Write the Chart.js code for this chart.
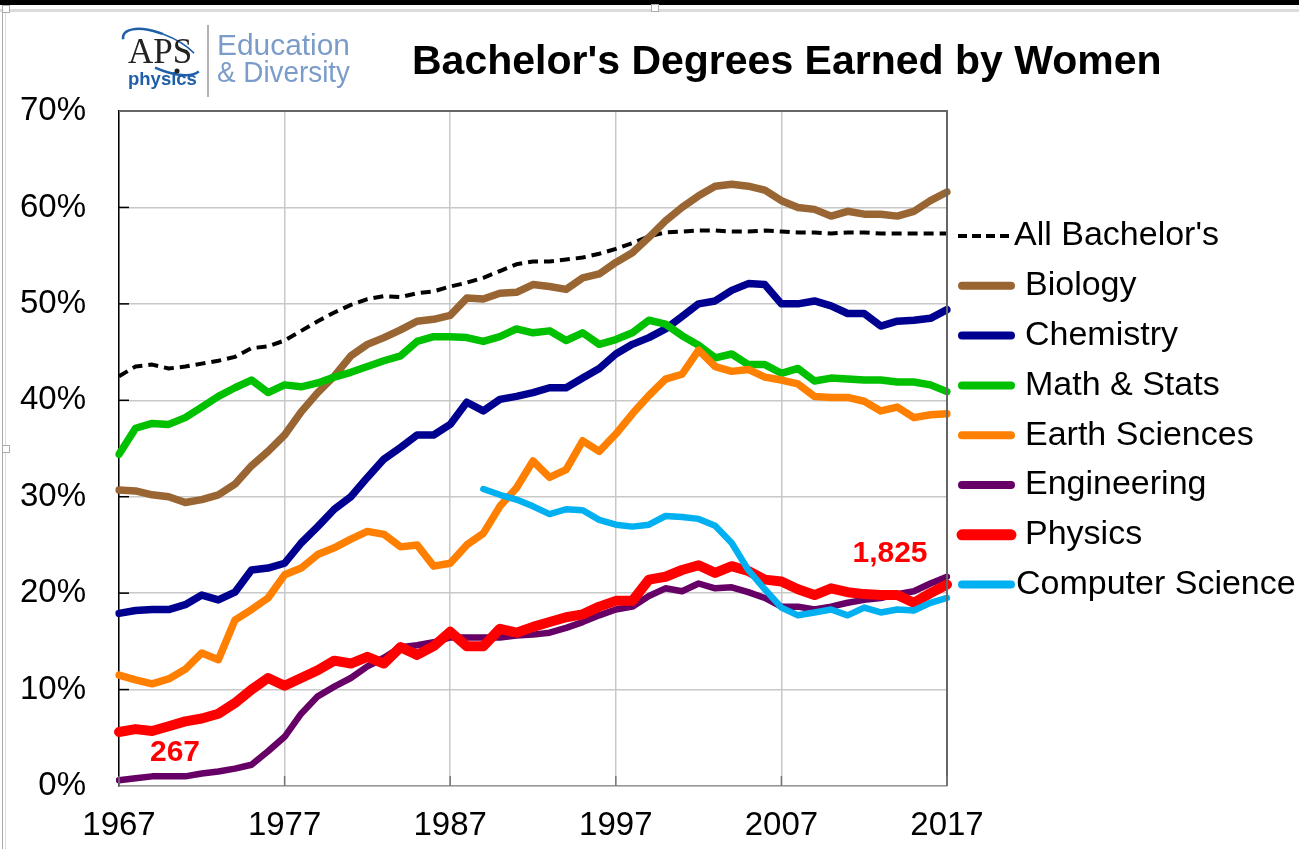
<!DOCTYPE html>
<html>
<head>
<meta charset="utf-8">
<title>Bachelor's Degrees Earned by Women</title>
<script src="https://cdn.jsdelivr.net/npm/chart.js@4.4.1/dist/chart.umd.min.js"></script>
<style>
  html, body { margin: 0; padding: 0; background: #fff; }
  canvas { display: block; }
</style>
</head>
<body>
<canvas id="myChart" width="1299" height="849"></canvas>
<script>
// anos 1967..2017
var years = [];
for (var a = 1967; a <= 2017; a++) years.push(a);

var tickYears = [1967, 1977, 1987, 1997, 2007, 2017];

// percentuais
var allBachelors = [
  42.5, 43.5, 43.7, 43.3, 43.5, 43.8, 44.1, 44.5, 45.4, 45.6,
  46.2, 47.2, 48.2, 49.1, 49.9, 50.5, 50.8, 50.7, 51.1, 51.3,
  51.8, 52.2, 52.7, 53.4, 54.1, 54.4, 54.4, 54.6, 54.8, 55.2,
  55.7, 56.3, 57.0, 57.4, 57.5, 57.6, 57.6, 57.5, 57.5, 57.6,
  57.5, 57.4, 57.4, 57.3, 57.4, 57.4, 57.3, 57.3, 57.3, 57.3,
  57.3
];
var biology = [
  30.7, 30.6, 30.2, 30.0, 29.4, 29.7, 30.2, 31.3, 33.2, 34.7,
  36.4, 38.8, 40.8, 42.5, 44.6, 45.8, 46.5, 47.3, 48.2, 48.4,
  48.8, 50.6, 50.5, 51.1, 51.2, 52.0, 51.8, 51.5, 52.7, 53.1,
  54.3, 55.3, 56.9, 58.6, 60.0, 61.2, 62.2, 62.4, 62.2, 61.8,
  60.7, 60.0, 59.8, 59.1, 59.6, 59.3, 59.3, 59.1, 59.6, 60.7,
  61.6
];
var chemistry = [
  17.9, 18.2, 18.3, 18.3, 18.8, 19.8, 19.3, 20.1, 22.4, 22.6,
  23.1, 25.2, 26.9, 28.7, 30.0, 32.0, 33.9, 35.1, 36.4, 36.4,
  37.5, 39.8, 38.9, 40.1, 40.4, 40.8, 41.3, 41.3, 42.3, 43.3,
  44.8, 45.8, 46.5, 47.4, 48.7, 50.0, 50.3, 51.4, 52.1, 52.0,
  50.0, 50.0, 50.3, 49.8, 49.0, 49.0, 47.7, 48.2, 48.3, 48.5,
  49.4
];
var mathStats = [
  34.4, 37.1, 37.6, 37.5, 38.2, 39.3, 40.4, 41.3, 42.1, 40.8,
  41.6, 41.4, 41.8, 42.4, 42.9, 43.5, 44.1, 44.6, 46.1, 46.6,
  46.6, 46.5, 46.1, 46.6, 47.4, 47.0, 47.2, 46.2, 47.0, 45.8,
  46.3, 47.0, 48.3, 47.9, 46.7, 45.7, 44.4, 44.8, 43.7, 43.7,
  42.8, 43.3, 42.0, 42.3, 42.2, 42.1, 42.1, 41.9, 41.9, 41.6,
  40.9
];
var earthSci = [
  11.5, 11.0, 10.6, 11.1, 12.1, 13.8, 13.1, 17.2, 18.3, 19.5,
  21.9, 22.6, 24.0, 24.7, 25.6, 26.4, 26.1, 24.8, 25.0, 22.8,
  23.1, 25.0, 26.2, 29.0, 30.9, 33.7, 32.0, 32.8, 35.8, 34.7,
  36.5, 38.6, 40.5, 42.2, 42.7, 45.2, 43.5, 43.0, 43.2, 42.4,
  42.1, 41.7, 40.4, 40.3, 40.3, 39.9, 38.9, 39.3, 38.2, 38.5,
  38.6
];
var engineering = [
  0.6, 0.8, 1.0, 1.0, 1.0, 1.3, 1.5, 1.8, 2.2, 3.6,
  5.1, 7.5, 9.3, 10.3, 11.2, 12.4, 13.3, 14.4, 14.6, 14.9,
  15.4, 15.4, 15.4, 15.4, 15.6, 15.7, 15.9, 16.4, 17.0, 17.7,
  18.3, 18.6, 19.7, 20.5, 20.2, 21.0, 20.5, 20.6, 20.1, 19.5,
  18.6, 18.6, 18.3, 18.6, 19.0, 19.3, 19.5, 19.9, 20.2, 21.0,
  21.7
];
var physics = [
  5.6, 5.9, 5.7, 6.2, 6.7, 7.0, 7.5, 8.6, 10.0, 11.2,
  10.4, 11.2, 12.0, 13.0, 12.7, 13.4, 12.7, 14.4, 13.6, 14.5,
  16.0, 14.5, 14.5, 16.3, 15.9, 16.5, 17.0, 17.5, 17.8, 18.6,
  19.2, 19.2, 21.4, 21.7, 22.4, 22.9, 22.1, 22.8, 22.3, 21.4,
  21.2, 20.4, 19.8, 20.5, 20.1, 19.9, 19.8, 19.8, 19.0, 20.0,
  20.9
];
var compSci = [
  null, null, null, null, null, null, null, null, null, null,
  null, null, null, null, null, null, null, null, null, null,
  null, null, 30.8, 30.2, 29.7, 29.0, 28.2, 28.7, 28.6, 27.6,
  27.1, 26.9, 27.1, 28.0, 27.9, 27.7, 27.0, 25.2, 22.4, 20.4,
  18.5, 17.7, 18.0, 18.3, 17.7, 18.5, 18.0, 18.3, 18.2, 19.0,
  19.5
];

// numero de diplomas de fisica (primeiro e ultimo ano)
var physicsCounts = ['267', '1,825'];

var FONT = '"Liberation Sans", Arial, Helvetica, sans-serif';

function linha(label, data, cor, largura, ordem, tracejado) {
  return {
    label: label,
    data: data,
    borderColor: cor,
    backgroundColor: cor,
    borderWidth: largura,
    borderDash: tracejado || [],
    borderCapStyle: tracejado ? 'butt' : 'round',
    borderJoinStyle: 'round',
    pointRadius: 0,
    pointHoverRadius: 0,
    tension: 0,
    spanGaps: false,
    order: ordem
  };
}

// desenha moldura, logo, titulo, legenda e anotacoes
var extras = {
  id: 'extras',
  beforeDraw: function (chart) {
    var c = chart.ctx;
    c.save();
    c.fillStyle = '#fff';
    c.fillRect(0, 0, chart.width, chart.height);
    c.restore();
  },
  afterDraw: function (chart) {
    var c = chart.ctx;
    var area = chart.chartArea;
    var sx = chart.scales.x, sy = chart.scales.y;
    c.save();

    // borda do grafico (topo e direita)
    c.strokeStyle = '#666';
    c.lineWidth = 2;
    c.beginPath();
    c.moveTo(area.left, area.top);
    c.lineTo(area.right, area.top);
    c.lineTo(area.right, area.bottom);
    c.stroke();

    // marcas internas dos eixos
    c.strokeStyle = '#000';
    c.lineWidth = 1.5;
    for (var v = 10; v < 70; v += 10) {
      var py = sy.getPixelForValue(v);
      c.beginPath(); c.moveTo(area.left, py); c.lineTo(area.left + 10, py); c.stroke();
    }
    c.strokeStyle = '#777';
    tickYears.forEach(function (ano) {
      var px = sx.getPixelForValue(years.indexOf(ano));
      c.beginPath(); c.moveTo(px, area.bottom); c.lineTo(px, area.bottom - 10); c.stroke();
    });

    // moldura da janela
    c.fillStyle = '#000';
    c.fillRect(0, 0, chart.width, 5);
    c.fillStyle = '#dcdcdc';
    c.fillRect(0, 9, chart.width, 3);
    c.fillStyle = '#aaa';
    c.fillRect(2, 10, 1, chart.height);
    c.fillStyle = '#ddd';
    c.fillRect(5, 10, 1, chart.height);
    [[2, 5], [651, 4], [2, 445]].forEach(function (p) {
      c.fillStyle = '#fff';
      c.fillRect(p[0], p[1], 8, 8);
      c.strokeStyle = '#aaa';
      c.lineWidth = 1;
      c.strokeRect(p[0] + 0.5, p[1] + 0.5, 7, 7);
    });

    // logo APS
    c.strokeStyle = '#1f5fa8';
    c.lineWidth = 2.5;
    c.beginPath();
    c.ellipse(162, 52, 42, 17, 0.42, Math.PI * 0.92, Math.PI * 1.45);
    c.stroke();
    c.lineWidth = 1.5;
    c.beginPath();
    c.ellipse(162, 52, 42, 17, 0.42, Math.PI * 1.45, Math.PI * 1.75);
    c.stroke();
    c.lineWidth = 2.5;
    c.beginPath();
    c.ellipse(162, 52, 42, 17, 0.42, Math.PI * 0.05, Math.PI * 0.5);
    c.stroke();
    c.fillStyle = '#222';
    c.font = '35px "Liberation Serif", "Times New Roman", serif';
    c.textAlign = 'left';
    c.textBaseline = 'alphabetic';
    c.fillText('APS', 128, 63);
    c.beginPath(); c.arc(177, 71, 2.5, 0, Math.PI * 2); c.fill();
    c.fillStyle = '#1f5fa8';
    c.font = 'bold 18.5px ' + FONT;
    c.fillText('physics', 128, 85);
    c.strokeStyle = '#999';
    c.lineWidth = 1.5;
    c.beginPath(); c.moveTo(208, 25); c.lineTo(208, 97); c.stroke();
    c.fillStyle = '#7b9cc9';
    c.font = '30px ' + FONT;
    c.fillText('Education', 217, 55, 133);
    c.fillText('& Diversity', 217, 82, 133);

    // titulo
    c.fillStyle = '#000';
    c.font = 'bold 41px ' + FONT;
    c.fillText("Bachelor's Degrees Earned by Women", 412, 74);

    // legenda
    c.textBaseline = 'middle';
    c.font = '34px ' + FONT;
    chart.data.datasets.forEach(function (ds, i) {
      var ly = 236 + i * 49.8;
      var tx = 1025;
      c.save();
      c.strokeStyle = ds.borderColor;
      if (ds.borderDash.length) {
        c.setLineDash([9, 5]);
        c.lineWidth = 4;
        c.lineCap = 'butt';
        c.beginPath(); c.moveTo(958, ly); c.lineTo(1012, ly); c.stroke();
        tx = 1014;
      } else {
        c.lineWidth = ds.borderWidth >= 9 ? 11 : 8;
        c.lineCap = 'round';
        c.beginPath(); c.moveTo(962, ly); c.lineTo(1011, ly); c.stroke();
        if (ds.label === 'Computer Science') tx = 1016;
      }
      c.restore();
      c.fillStyle = '#000';
      c.fillText(ds.label, tx, ly);
    });

    // anotacoes de fisica
    c.fillStyle = '#ff0000';
    c.font = 'bold 30px ' + FONT;
    c.textAlign = 'center';
    c.fillText(physicsCounts[0], 175, 753);
    c.fillText(physicsCounts[1], 890, 554);

    c.restore();
  }
};

var ctx = document.getElementById('myChart').getContext('2d');
var myChart = new Chart(ctx, {
  type: 'line',
  data: {
    labels: years,
    datasets: [
      linha("All Bachelor's", allBachelors, '#000000', 4, 7, [10, 6]),
      linha('Biology', biology, '#996633', 7.5, 6),
      linha('Chemistry', chemistry, '#000090', 7.5, 5),
      linha('Math & Stats', mathStats, '#00c000', 7.5, 4),
      linha('Earth Sciences', earthSci, '#ff8000', 7.5, 3),
      linha('Engineering', engineering, '#660066', 6.5, 2),
      linha('Physics', physics, '#ff0000', 10, 1),
      linha('Computer Science', compSci, '#00b0f0', 6.5, 0)
    ]
  },
  options: {
    responsive: false,
    animation: false,
    devicePixelRatio: 1,
    layout: { padding: { top: 111, right: 352, left: 0, bottom: 0 } },
    plugins: {
      legend: { display: false },
      title: { display: false },
      tooltip: { enabled: false }
    },
    scales: {
      x: {
        type: 'category',
        offset: false,
        afterFit: function (s) { s.height = 63; },
        grid: {
          drawTicks: false,
          lineWidth: 1.5,
          color: function (c) {
            return tickYears.indexOf(years[c.index]) >= 0 ? '#c8c8c8' : 'rgba(0,0,0,0)';
          }
        },
        border: { color: '#999', width: 1.5 },
        ticks: {
          autoSkip: false,
          maxRotation: 0,
          minRotation: 0,
          padding: 20,
          color: '#000',
          font: { family: FONT, size: 33 },
          callback: function (val, idx) {
            return tickYears.indexOf(years[idx]) >= 0 ? String(years[idx]) : '';
          }
        }
      },
      y: {
        min: 0,
        max: 70,
        afterFit: function (s) { s.width = 119; },
        grid: { drawTicks: false, lineWidth: 1.5, color: '#c8c8c8' },
        border: { color: '#000', width: 1.5 },
        ticks: {
          stepSize: 10,
          padding: 33,
          color: '#000',
          font: { family: FONT, size: 33 },
          callback: function (v) { return v + '%'; }
        }
      }
    }
  },
  plugins: [extras]
});
</script>
</body>
</html>
